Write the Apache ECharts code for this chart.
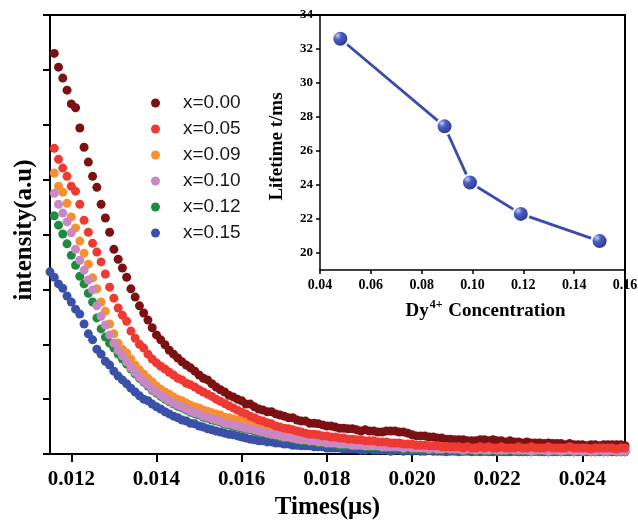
<!DOCTYPE html>
<html>
<head>
<meta charset="utf-8">
<script src="https://cdn.jsdelivr.net/npm/echarts@6/dist/echarts.min.js"></script>
<style>html,body{margin:0;padding:0;background:#fff}#c{width:638px;height:521px}</style>
</head>
<body>
<div id="c"></div>
<script>
// sample times (µs)
const times = [0.0115,0.0116,0.0117,0.0118,0.0119,
0.0120,0.0121,0.0122,0.0123,0.0124,0.0125,0.0126,0.0127,0.0128,0.0129,
0.0130,0.0131,0.0132,0.0133,0.0134,0.0135,0.0136,0.0137,0.0138,0.0139,
0.0140,0.0141,0.0142,0.0143,0.0144,0.0145,0.0146,0.0147,0.0148,0.0149,
0.0150,0.0151,0.0152,0.0153,0.0154,0.0155,0.0156,0.0157,0.0158,0.0159,
0.0160,0.0161,0.0162,0.0163,0.0164,0.0165,0.0166,0.0167,0.0168,0.0169,
0.0170,0.0171,0.0172,0.0173,0.0174,0.0175,0.0176,0.0177,0.0178,0.0179,
0.0180,0.0181,0.0182,0.0183,0.0184,0.0185,0.0186,0.0187,0.0188,0.0189,
0.0190,0.0191,0.0192,0.0193,0.0194,0.0195,0.0196,0.0197,0.0198,0.0199,
0.0200,0.0201,0.0202,0.0203,0.0204,0.0205,0.0206,0.0207,0.0208,0.0209,
0.0210,0.0211,0.0212,0.0213,0.0214,0.0215,0.0216,0.0217,0.0218,0.0219,
0.0220,0.0221,0.0222,0.0223,0.0224,0.0225,0.0226,0.0227,0.0228,0.0229,
0.0230,0.0231,0.0232,0.0233,0.0234,0.0235,0.0236,0.0237,0.0238,0.0239,
0.0240,0.0241,0.0242,0.0243,0.0244,0.0245,0.0246,0.0247,0.0248,0.0249,
0.0250];

const x000 = ['-',
7.30,7.05,6.85,6.63,6.38,6.31,5.94,5.59,5.32,5.06,
4.86,4.55,4.30,4.04,3.73,3.55,3.39,3.22,3.01,2.86,
2.70,2.57,2.44,2.30,2.17,2.08,1.99,1.89,1.82,1.75,
1.68,1.62,1.57,1.51,1.44,1.38,1.35,1.28,1.22,1.17,
1.13,1.07,1.04,1.00,0.97,0.91,0.91,0.86,0.82,0.80,
0.77,0.77,0.73,0.71,0.69,0.66,0.66,0.62,0.60,0.60,
0.56,0.56,0.55,0.53,0.51,0.51,0.49,0.47,0.47,0.46,
0.46,0.44,0.42,0.44,0.42,0.42,0.40,0.40,0.42,0.42,
0.42,0.40,0.40,0.38,0.35,0.33,0.33,0.33,0.31,0.31,
0.29,0.29,0.27,0.27,0.26,0.26,0.26,0.24,0.24,0.24,
0.26,0.26,0.24,0.26,0.24,0.24,0.22,0.24,0.22,0.22,
0.20,0.22,0.20,0.20,0.20,0.19,0.20,0.19,0.19,0.19,
0.17,0.19,0.17,0.17,0.17,0.15,0.17,0.17,0.15,0.17,
0.17,0.17,0.17,0.17,0.15];

const x005 = ['-',
5.57,5.37,5.21,5.06,4.88,4.79,4.55,4.26,4.04,3.84,
3.68,3.50,3.28,3.04,2.84,2.66,2.53,2.42,2.24,2.11,
2.00,1.93,1.82,1.73,1.66,1.60,1.55,1.49,1.44,1.38,
1.35,1.29,1.26,1.22,1.17,1.13,1.09,1.05,1.00,0.96,
0.92,0.88,0.84,0.80,0.76,0.73,0.69,0.66,0.62,0.60,
0.57,0.55,0.51,0.49,0.47,0.46,0.44,0.42,0.40,0.38,
0.36,0.36,0.35,0.33,0.33,0.31,0.31,0.29,0.29,0.27,
0.27,0.26,0.26,0.24,0.24,0.24,0.22,0.22,0.22,0.20,
0.20,0.20,0.18,0.18,0.18,0.16,0.16,0.16,0.15,0.15,
0.15,0.13,0.13,0.13,0.13,0.13,0.11,0.13,0.11,0.11,
0.13,0.11,0.13,0.11,0.11,0.13,0.11,0.11,0.11,0.13,
0.11,0.11,0.13,0.11,0.11,0.11,0.13,0.11,0.11,0.11,
0.11,0.13,0.11,0.11,0.11,0.11,0.09,0.11,0.11,0.11,
0.11,0.11,0.09,0.11,0.11];

const x009 = ['-',
5.12,4.88,4.77,4.57,4.32,4.12,3.88,3.66,3.46,3.21,
3.01,2.77,2.60,2.37,2.19,2.02,1.91,1.84,1.73,1.62,
1.53,1.46,1.38,1.31,1.24,1.18,1.13,1.09,1.04,1.00,
0.97,0.93,0.89,0.86,0.84,0.80,0.78,0.75,0.73,0.71,
0.67,0.66,0.64,0.62,0.60,0.56,0.55,0.53,0.51,0.49,
0.46,0.44,0.42,0.40,0.38,0.36,0.35,0.33,0.31,0.31,
0.29,0.29,0.27,0.27,0.26,0.26,0.24,0.24,0.22,0.22,
0.22,0.20,0.20,0.20,0.18,0.18,0.18,0.16,0.16,0.16,
0.15,0.15,0.15,0.15,0.13,0.15,0.13,0.13,0.13,0.13,
0.13,0.11,0.13,0.11,0.11,0.11,0.11,0.11,0.09,0.11,
0.09,0.11,0.09,0.09,0.09,0.11,0.09,0.09,0.09,0.09,
0.09,0.09,0.07,0.09,0.09,0.09,0.07,0.09,0.07,0.09,
0.07,0.09,0.07,0.07,0.09,0.07,0.07,0.07,0.09,0.07,
0.07,0.07,0.07,0.09,0.07];

const x010 = ['-',
4.75,4.55,4.39,4.23,4.03,3.73,3.53,3.35,3.17,2.99,
2.70,2.51,2.35,2.17,2.02,1.89,1.79,1.68,1.57,1.49,
1.40,1.33,1.26,1.18,1.13,1.07,1.02,0.97,0.93,0.89,
0.86,0.82,0.78,0.75,0.73,0.69,0.67,0.64,0.62,0.60,
0.56,0.55,0.53,0.51,0.49,0.47,0.46,0.44,0.42,0.40,
0.38,0.36,0.35,0.33,0.31,0.31,0.29,0.27,0.26,0.26,
0.24,0.24,0.22,0.22,0.20,0.20,0.20,0.18,0.18,0.18,
0.16,0.16,0.16,0.15,0.15,0.15,0.15,0.13,0.13,0.13,
0.13,0.13,0.11,0.13,0.11,0.11,0.11,0.11,0.09,0.11,
0.09,0.09,0.11,0.09,0.09,0.09,0.07,0.09,0.09,0.07,
0.09,0.07,0.07,0.09,0.07,0.07,0.07,0.09,0.07,0.07,
0.07,0.07,0.05,0.07,0.07,0.07,0.05,0.07,0.07,0.05,
0.07,0.07,0.05,0.07,0.05,0.07,0.05,0.05,0.07,0.05,
0.05,0.07,0.05,0.05,0.05];

const x012 = ['-',
4.34,4.17,4.01,3.83,3.62,3.44,3.24,3.10,2.93,2.77,
2.48,2.28,2.13,2.02,1.93,1.82,1.73,1.64,1.55,1.46,
1.38,1.31,1.24,1.16,1.11,1.05,1.00,0.95,0.91,0.87,
0.84,0.80,0.76,0.73,0.71,0.67,0.65,0.62,0.60,0.58,
0.54,0.53,0.51,0.49,0.47,0.45,0.44,0.42,0.40,0.38,
0.36,0.35,0.33,0.31,0.29,0.29,0.27,0.26,0.24,0.24,
0.22,0.22,0.20,0.20,0.18,0.18,0.18,0.16,0.16,0.16,
0.15,0.15,0.15,0.13,0.13,0.13,0.13,0.11,0.11,0.11,
0.11,0.11,0.09,0.11,0.09,0.09,0.09,0.09,0.07,0.09,
0.07,0.07,0.09,0.07,0.07,0.07,0.05,0.07,0.07,0.05,
0.07,0.05,0.05,0.07,0.05,0.05,0.05,0.07,0.05,0.05,
0.05,0.05,0.04,0.05,0.05,0.05,0.04,0.05,0.05,0.04,
0.05,0.05,0.04,0.05,0.04,0.05,0.04,0.04,0.05,0.04,
0.04,0.05,0.04,0.04,0.04];

const x015 = [3.32,
3.22,3.10,3.02,2.88,2.77,2.64,2.55,2.37,2.19,2.08,
1.91,1.82,1.69,1.62,1.51,1.42,1.35,1.28,1.20,1.13,
1.06,1.00,0.97,0.91,0.86,0.82,0.77,0.73,0.69,0.66,
0.62,0.60,0.56,0.55,0.51,0.49,0.46,0.44,0.42,0.40,
0.38,0.36,0.35,0.33,0.31,0.29,0.27,0.26,0.24,0.24,
0.22,0.22,0.20,0.20,0.18,0.18,0.16,0.16,0.15,0.15,
0.15,0.13,0.13,0.13,0.11,0.11,0.11,0.11,0.09,0.09,
0.09,0.09,0.07,0.07,0.09,0.07,0.07,0.07,0.07,0.05,
0.07,0.07,0.05,0.07,0.05,0.07,0.05,0.05,0.07,0.05,
0.05,0.05,0.04,0.05,0.05,0.04,0.05,0.05,0.04,0.05,
0.04,0.05,0.04,0.04,0.05,0.04,0.04,0.04,0.05,0.04,
0.04,0.04,0.04,0.05,0.04,0.04,0.04,0.04,0.04,0.04,
0.04,0.04,0.04,0.04,0.04,0.04,0.04,0.04,0.04,0.04,
0.04,0.04,0.04,0.04,0.04];

const seriesNames = ['x=0.00','x=0.05','x=0.09','x=0.10','x=0.12','x=0.15'];
const seriesColors = ['#7b1113','#ee3a33','#f7902f','#c987c3','#1f8b3f','#3b50a8'];
const seriesValues = [x000, x005, x009, x010, x012, x015];
// drawing order, bottom to top (indices into the arrays above)
const drawOrder = [0, 5, 4, 2, 3, 1];

const xTicks = [0.012,0.014,0.016,0.018,0.020,0.022,0.024];

// inset data
const conc = [0.048, 0.089, 0.099, 0.119, 0.150];
const lifetime = [32.6, 27.45, 24.15, 22.3, 20.7];
const insetYTicks = [20,22,24,26,28,30,32,34];

const serif = 'Liberation Serif, Times New Roman, serif';
const chart = echarts.init(document.getElementById('c'));

const mainSeries = drawOrder.map(s => ({
  name: seriesNames[s],
  type: 'scatter',
  xAxisIndex: 0, yAxisIndex: 0,
  symbol: 'circle',
  symbolSize: 9,
  itemStyle: {color: seriesColors[s], opacity: 1},
  data: times.map((t, i) => [t, seriesValues[s][i]])
}));

chart.setOption({
  animation: false,
  backgroundColor: '#fff',
  grid: [
    {left: 50, top: 15, right: 13, bottom: 67, show: true, borderColor: '#000', borderWidth: 2, backgroundColor: 'transparent', outerBoundsMode: 'none', containLabel: false},
    {left: 320, top: 15, right: 13, bottom: 251, show: false, outerBoundsMode: 'none', containLabel: false}
  ],
  legend: {
    data: seriesNames,
    orient: 'vertical',
    left: 146, top: 88,
    itemWidth: 9, itemHeight: 9, itemGap: 6,
    icon: 'circle',
    textStyle: {fontSize: 19, lineHeight: 20, color: '#1a1a1a', fontFamily: 'Liberation Sans, Arial, sans-serif', padding: [0,0,0,18]}
  },
  xAxis: [
    {
      gridIndex: 0, type: 'value', min: 0.0115, max: 0.025,
      name: 'Times(μs)', nameLocation: 'middle', nameGap: 41,
      nameTextStyle: {fontFamily: serif, fontWeight: 'bold', fontSize: 25, color: '#000', padding: [0, 20, 0, 0]},
      axisLine: {show: true, lineStyle: {color: '#000', width: 2}},
      axisTick: {show: true, length: 8, inside: false, lineStyle: {color: '#000', width: 2}, customValues: xTicks},
      axisLabel: {margin: 15, fontFamily: serif, fontWeight: 'bold', fontSize: 21, color: '#000', customValues: xTicks,
        formatter: v => v.toFixed(3)},
      splitLine: {show: false}
    },
    {
      gridIndex: 1, type: 'value', min: 0.04, max: 0.16, interval: 0.02,
      name: '{a|Dy}{s|4+}{a| Concentration}', nameLocation: 'middle', nameGap: 29,
      nameTextStyle: {padding: [0, 0, 0, 26],
        rich: {
          a: {fontFamily: serif, fontWeight: 'bold', fontSize: 19, color: '#000', verticalAlign: 'bottom', lineHeight: 22},
          s: {fontFamily: serif, fontWeight: 'bold', fontSize: 12, color: '#000', verticalAlign: 'top', lineHeight: 22, padding: [0,1,8,1]}
        }},
      axisLine: {show: true, lineStyle: {color: '#000', width: 1.5}},
      axisTick: {show: true, length: 4, lineStyle: {color: '#000', width: 1.5}},
      axisLabel: {margin: 8, fontFamily: serif, fontWeight: 'bold', fontSize: 14, color: '#000',
        formatter: v => v.toFixed(2)},
      splitLine: {show: false}
    }
  ],
  yAxis: [
    {
      gridIndex: 0, type: 'value', min: 0, max: 8, interval: 1,
      name: 'intensity(a.u)', nameLocation: 'middle', nameGap: 13, nameRotate: 90,
      nameTextStyle: {fontFamily: serif, fontWeight: 'bold', fontSize: 25, color: '#000', padding: [0, 0, 0, 9]},
      axisLine: {show: true, lineStyle: {color: '#000', width: 2}},
      axisTick: {show: true, length: 7, lineStyle: {color: '#000', width: 2}},
      axisLabel: {show: false},
      splitLine: {show: false}
    },
    {
      gridIndex: 1, type: 'value', min: 19, max: 34, interval: 1,
      name: 'Lifetime t/ms', nameLocation: 'middle', nameGap: 33, nameRotate: 90,
      nameTextStyle: {fontFamily: serif, fontWeight: 'bold', fontSize: 19, color: '#000', padding: [0, 8, 0, 0]},
      axisLine: {show: true, lineStyle: {color: '#000', width: 1.5}},
      axisTick: {show: true, length: 4, lineStyle: {color: '#000', width: 1.5}, customValues: insetYTicks},
      axisLabel: {margin: 7, fontFamily: serif, fontWeight: 'bold', fontSize: 13, color: '#000', customValues: insetYTicks},
      splitLine: {show: false}
    }
  ],
  series: mainSeries.concat([{
    name: 'lifetime',
    type: 'line',
    xAxisIndex: 1, yAxisIndex: 1,
    symbol: 'circle', symbolSize: 16,
    showSymbol: true,
    lineStyle: {color: '#3a4cae', width: 2.8},
    itemStyle: {
      color: {type: 'radial', x: 0.35, y: 0.32, r: 0.75, colorStops: [
        {offset: 0, color: '#c5ccf5'}, {offset: 0.3, color: '#4b5ec4'}, {offset: 1, color: '#1f2c82'}]},
      borderColor: '#fff', borderWidth: 2
    },
    z: 5,
    data: conc.map((c, i) => [c, lifetime[i]])
  }])
});
</script>
</body>
</html>
